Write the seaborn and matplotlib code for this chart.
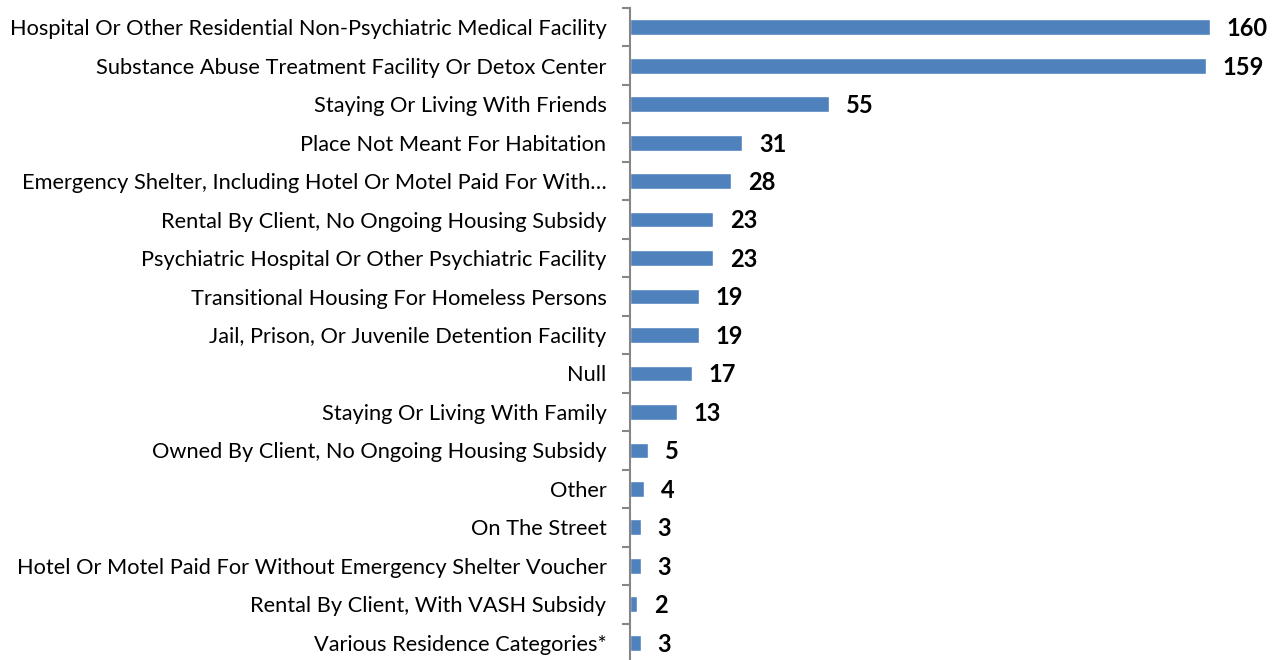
import matplotlib
matplotlib.use("Agg")
import matplotlib.pyplot as plt
import seaborn as sns
import pandas as pd
import numpy as np

categories = [
    "Hospital Or Other Residential Non-Psychiatric Medical Facility",
    "Substance Abuse Treatment Facility Or Detox Center",
    "Staying Or Living With Friends",
    "Place Not Meant For Habitation",
    "Emergency Shelter, Including Hotel Or Motel Paid For With\u2026",
    "Rental By Client, No Ongoing Housing Subsidy",
    "Psychiatric Hospital Or Other Psychiatric Facility",
    "Transitional Housing For Homeless Persons",
    "Jail, Prison, Or Juvenile Detention Facility",
    "Null",
    "Staying Or Living With Family",
    "Owned By Client, No Ongoing Housing Subsidy",
    "Other",
    "On The Street",
    "Hotel Or Motel Paid For Without Emergency Shelter Voucher",
    "Rental By Client, With VASH Subsidy",
    "Various Residence Categories*",
]
values = [160, 159, 55, 31, 28, 23, 23, 19, 19, 17, 13, 5, 4, 3, 3, 2, 3]

df = pd.DataFrame({"category": categories, "value": values})

sns.set_theme(style="white")
plt.rcParams["font.family"] = ["Lato", "DejaVu Sans"]

W, H = 1277, 660
fig = plt.figure(figsize=(W / 100, H / 100), dpi=100)
left = 630 / W
right = 1264 / W
top = 8 / H
bottom = -2 / H
ax = fig.add_axes([left, bottom, right - left, 1 - top - bottom])

sns.barplot(data=df, y="category", x="value", orient="h", color="#4F81BD",
            saturation=1, width=0.41, ax=ax)

n = len(categories)
ax.set_xlim(0, 175)
ax.set_ylim(n - 0.5, -0.5)
ax.set_xlabel("")
ax.set_ylabel("")
ax.set_xticks([])

for s in ["top", "right", "bottom"]:
    ax.spines[s].set_visible(False)
ax.spines["left"].set_color("#868686")
ax.spines["left"].set_linewidth(1.5)

ax.set_yticks(np.arange(n))
ax.set_yticklabels(categories, fontsize=15.7, color="#000000")
ax.tick_params(axis="y", which="major", length=0, pad=17)
ax.set_yticks(np.arange(n + 1) - 0.5, minor=True)
ax.tick_params(axis="y", which="minor", length=6, width=1.5, color="#868686", left=True)

for i, v in enumerate(values):
    ax.annotate(str(v), xy=(v, i), xytext=(12, -1), textcoords="offset points",
                ha="left", va="center", fontsize=17, fontweight="bold", color="#000000")

fig.savefig("out.png", dpi=100)
